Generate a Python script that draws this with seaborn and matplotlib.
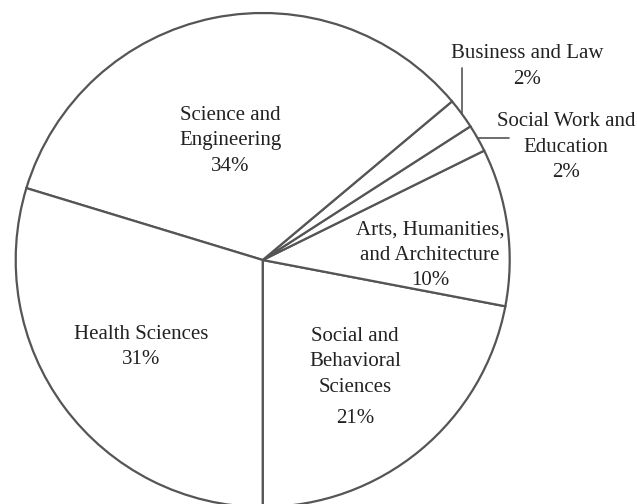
import numpy as np
import matplotlib
import matplotlib.pyplot as plt
import seaborn as sns

matplotlib.use("Agg")

# Slice data, counter-clockwise from straight down
fields = [
    "Social and\nBehavioral\nSciences",
    "Arts, Humanities,\nand Architecture",
    "Social Work and\nEducation",
    "Business and Law",
    "Science and\nEngineering",
    "Health Sciences",
]
shares = [22.0, 10.3, 1.8, 2.0, 34.2, 29.7]
pct_labels = ["21%", "10%", "2%", "2%", "34%", "31%"]

sns.set_theme(style="white")
plt.rcParams["font.family"] = ["Liberation Serif", "DejaVu Serif"]

LINE = "#555555"
TEXT = "#222222"

fig = plt.figure(figsize=(6.37, 5.04), dpi=100)
cx, cy, r = 262.7, 260.0, 247.0  # pie centre / radius in pixels
ax = fig.add_axes([(cx - r) / 637, (504 - cy - r) / 504, 2 * r / 637, 2 * r / 504])

wedges, _ = ax.pie(
    shares, startangle=-90, counterclock=True, radius=1,
    wedgeprops=dict(facecolor="white", edgecolor=LINE, linewidth=1.6),
)
ax.set_aspect("auto")
ax.set_xlim(-1, 1)
ax.set_ylim(-1, 1)
ax.axis("off")

# label placement (data units) and how name/percent are stacked
kw = dict(ha="center", va="center", fontsize=15, color=TEXT, linespacing=1.45)
ax.text(0.374, -0.412, fields[0], **kw)
ax.text(0.374, -0.643, pct_labels[0], **kw)
ax.text(0.678, 0.020, fields[1] + "\n" + pct_labels[1], **kw)
ax.text(1.228, 0.457, fields[2] + "\n" + pct_labels[2], **kw)
ax.text(1.071, 0.783, fields[3] + "\n" + pct_labels[3], **kw)
ax.text(-0.132, 0.482, fields[4] + "\n" + pct_labels[4], **kw)
ax.text(-0.493, -0.352, fields[5] + "\n" + pct_labels[5], **kw)

# leader lines for the two thin slices, starting at the wedge mid-angle
for i, kind in [(3, "up"), (2, "right")]:
    w = wedges[i]
    mid = np.deg2rad((w.theta1 + w.theta2) / 2)
    x0, y0 = np.cos(mid), np.sin(mid)
    if kind == "up":
        ax.plot([x0, x0], [y0, 0.777], color=LINE, lw=1.2, clip_on=False)
    else:
        ax.plot([x0, 0.997], [y0, y0], color=LINE, lw=1.2, clip_on=False)

fig.savefig("out.png", dpi=100, facecolor="white")
